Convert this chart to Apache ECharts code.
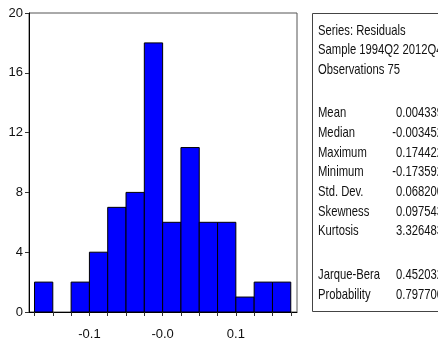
<!DOCTYPE html>
<html>
<head>
<meta charset="utf-8">
<script src="https://cdn.jsdelivr.net/npm/echarts@6/dist/echarts.min.js"></script>
<style>
html,body{margin:0;padding:0;background:#fff;}
#c{width:438px;height:343px;}
</style>
</head>
<body>
<div id="c"></div>
<script>
// ---- data ----
var binStarts = [-0.175,-0.15,-0.125,-0.1,-0.075,-0.05,-0.025,0,0.025,0.05,0.075,0.1,0.125,0.15];
var binWidth = 0.025;
var counts = [2,0,2,4,7,8,18,6,11,6,6,1,2,2];
var yTicks = [0,4,8,12,16,20];
var xLabelValues = [-0.1,0,0.1];
var xLabelTexts = ["-0.1","-0.0","0.1"];
var headerLines = ["Series: Residuals","Sample 1994Q2 2012Q4","Observations 75"];
var statNames = ["Mean","Median","Maximum","Minimum","Std. Dev.","Skewness","Kurtosis"];
var statValues = ["0.004339","-0.003452","0.174422","-0.173592","0.068200","0.097543","3.326483"];
var testNames = ["Jarque-Bera","Probability"];
var testValues = ["0.452032","0.797700"];

var FONT = '"Liberation Sans",Arial,sans-serif';
var NARROW = 0.75;
var binEdges = binStarts.concat([binStarts[binStarts.length-1]+binWidth]);

var histData = binStarts.map(function(s,i){return [s, s+binWidth, counts[i]];});

var graphics = [];
graphics.push({type:'rect', shape:{x:312.5,y:13.5,width:200,height:298}, style:{fill:'#fff',stroke:'#444',lineWidth:1}, z:1});
function addText(t,x,y,align){
  graphics.push({type:'text', x:x, y:y, z:2, scaleX:NARROW,
    style:{text:t, fill:'#111', font:'15px '+FONT, textAlign:align, textVerticalAlign:'middle'}});
}
headerLines.forEach(function(t,i){ addText(t,318,30.5+i*19.7,'left'); });
statNames.forEach(function(t,i){ addText(t,318,113+i*19.7,'left'); addText(statValues[i],443,113+i*19.7,'right'); });
testNames.forEach(function(t,i){ addText(t,318,275+i*19.7,'left'); addText(testValues[i],443,275+i*19.7,'right'); });

var chart = echarts.init(document.getElementById('c'), null, {renderer:'canvas'});
chart.setOption({
  animation:false,
  grid:{left:29,right:141,top:13,bottom:31,show:true,borderColor:'#555',borderWidth:1,backgroundColor:'#fff'},
  xAxis:{
    type:'value', min:-0.1825, max:0.1835,
    axisLine:{show:true,onZero:false,lineStyle:{color:'#000',width:1}},
    axisTick:{show:true,length:4,inside:false,customValues:binEdges,lineStyle:{color:'#333'}},
    axisLabel:{show:true,customValues:xLabelValues,margin:16,color:'#111',fontSize:13,fontFamily:FONT,
      formatter:function(v){var i=xLabelValues.findIndex(function(x){return Math.abs(x-v)<1e-9;});return i>=0?xLabelTexts[i]:'';}},
    splitLine:{show:false}
  },
  yAxis:{
    type:'value', min:yTicks[0], max:yTicks[yTicks.length-1], interval:4,
    axisLine:{show:true,onZero:false,lineStyle:{color:'#000',width:1}},
    axisTick:{show:true,length:4,lineStyle:{color:'#333'}},
    axisLabel:{margin:6,color:'#111',fontSize:13,fontFamily:FONT},
    splitLine:{show:false}
  },
  series:[{
    type:'custom',
    data:histData,
    encode:{x:[0,1],y:2},
    renderItem:function(params,api){
      var c = api.value(2);
      if(!c) return null;
      var p0 = api.coord([api.value(0),0]);
      var p1 = api.coord([api.value(1),c]);
      return {type:'rect', shape:{x:p0[0],y:p1[1],width:p1[0]-p0[0],height:p0[1]-p1[1]},
        style:{fill:'#0000ff',stroke:'#000',lineWidth:1}};
    }
  }],
  graphic:graphics
});
</script>
</body>
</html>
